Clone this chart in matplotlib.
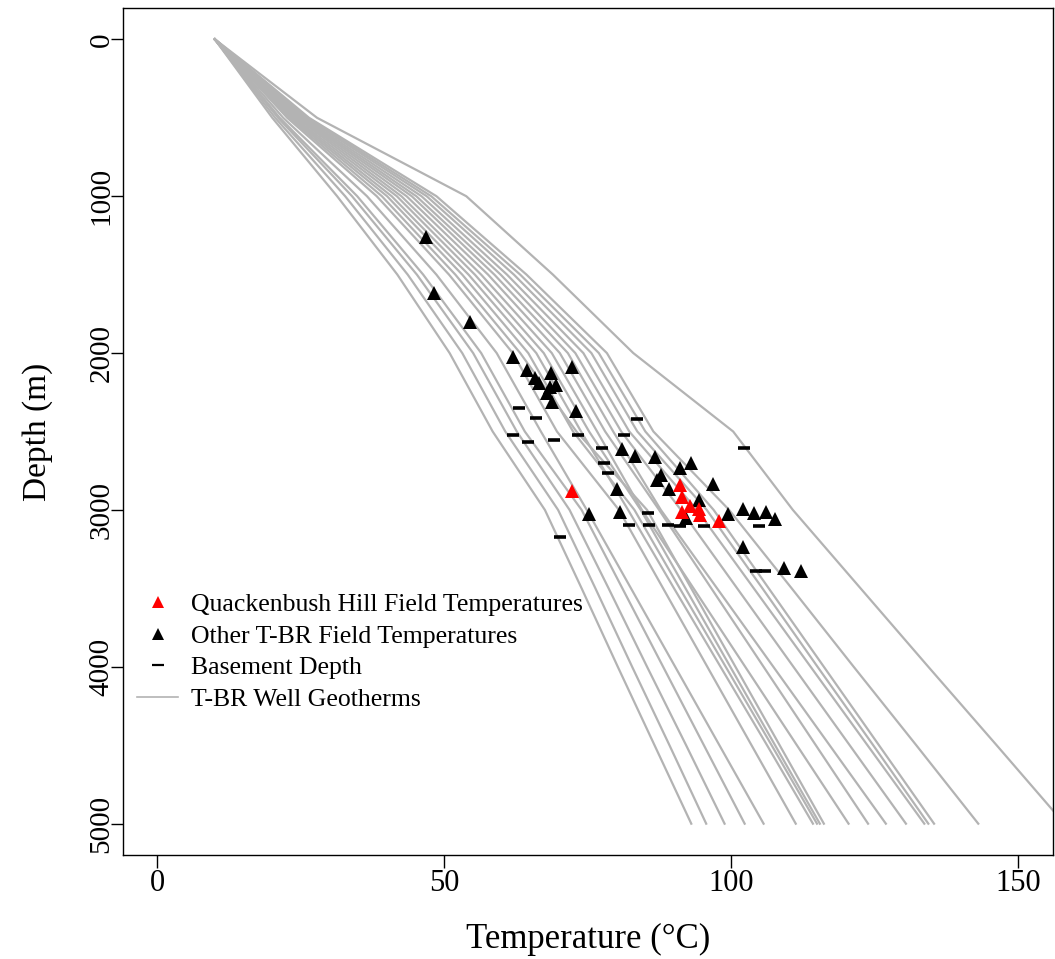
import matplotlib
matplotlib.use("Agg")
import matplotlib.pyplot as plt
from matplotlib.lines import Line2D

plt.rcParams['font.family'] = ['Liberation Serif', 'DejaVu Serif']

# Depth nodes (m) at which each geotherm temperature is read
geo_depths = [0, 500, 1000, 1500, 2000, 2500, 3000, 3500, 4000, 4500, 5000]

# Geotherm temperatures (°C) at geo_depths
geo_01 = [10, 20.0, 31.3, 41.8, 50.9, 58.4, 67.5, 73.9, 80.2, 86.6, 93.0]
geo_02 = [10, 20.5, 32.7, 43.6, 53.1, 60.6, 69.8, 76.3, 82.7, 89.2, 95.6]
geo_03 = [10, 21.0, 33.9, 45.2, 55.0, 62.6, 71.8, 78.6, 85.3, 92.1, 98.8]
geo_04 = [10, 21.3, 34.8, 46.3, 56.4, 64.0, 73.9, 81.0, 88.1, 95.2, 102.3]
geo_05 = [10, 21.9, 36.5, 48.6, 59.1, 66.8, 74.8, 82.5, 90.2, 97.9, 105.6]
geo_06 = [10, 22.6, 38.2, 50.8, 61.9, 69.6, 80.4, 88.1, 95.8, 103.5, 111.2]
geo_07 = [10, 23.5, 40.8, 54.2, 66.0, 73.8, 82.0, 90.0, 98.1, 106.2, 114.2]
geo_08 = [10, 23.2, 40.0, 53.1, 64.6, 72.4, 83.1, 91.0, 99.0, 107.0, 114.9]
geo_09 = [10, 23.8, 41.7, 55.3, 67.3, 75.2, 84.2, 92.0, 99.8, 107.6, 115.4]
geo_10 = [10, 22.9, 39.1, 51.9, 63.2, 73.0, 85.3, 93.0, 100.7, 108.4, 116.1]
geo_11 = [10, 24.2, 42.5, 56.4, 68.7, 76.6, 84.4, 93.4, 102.4, 111.4, 120.4]
geo_12 = [10, 24.5, 43.4, 57.6, 70.1, 78.0, 87.4, 96.5, 105.6, 114.7, 123.8]
geo_13 = [10, 24.8, 44.3, 58.7, 71.5, 79.4, 87.7, 97.5, 107.3, 117.1, 126.9]
geo_14 = [10, 25.1, 45.1, 59.8, 72.8, 80.8, 91.2, 101.0, 110.8, 120.6, 130.4]
geo_15 = [10, 25.4, 46.0, 60.9, 74.2, 82.2, 94.0, 103.9, 113.8, 123.7, 133.6]
geo_16 = [10, 25.8, 46.9, 62.1, 75.6, 83.6, 95.7, 105.4, 115.0, 124.7, 134.3]
geo_17 = [10, 26.1, 47.7, 63.2, 76.9, 85.0, 96.9, 106.5, 116.1, 125.7, 135.3]
geo_18 = [10, 26.4, 48.6, 64.3, 78.3, 86.4, 99.6, 110.5, 121.3, 132.2, 143.0]
geo_19 = [10, 27.8, 53.8, 68.9, 82.9, 100.3, 110.7, 122.5, 134.3, 146.2, 158.0]

geotherms = [geo_01, geo_02, geo_03, geo_04, geo_05, geo_06, geo_07, geo_08,
             geo_09, geo_10, geo_11, geo_12, geo_13, geo_14, geo_15, geo_16,
             geo_17, geo_18, geo_19]

# Quackenbush Hill field temperatures
qh_temp = [72.3, 91.1, 91.4, 92.8, 91.4, 94.3, 94.6, 97.9]
qh_depth = [2880, 2842, 2916, 2976, 3012, 2997, 3033, 3072]

# Other T-BR field temperatures
other_temp = [46.7, 48.1, 54.5, 61.9, 64.4, 65.8, 66.5, 68.5, 69.5, 68.4, 67.9,
              68.7, 72.2, 72.9, 80.9, 83.2, 86.7, 91.1, 93.0, 87.7, 87.0, 89.2,
              80.1, 75.1, 80.5, 94.3, 92.1, 96.7, 99.4, 102.0, 104.0, 106.1,
              107.6, 102.0, 109.1, 112.1]
other_depth = [1258, 1616, 1799, 2026, 2107, 2160, 2192, 2128, 2203, 2214, 2256,
               2310, 2086, 2369, 2614, 2656, 2661, 2735, 2699, 2778, 2810, 2869,
               2869, 3027, 3016, 2937, 3050, 2837, 3029, 2997, 3018, 3016,
               3057, 3236, 3370, 3389]

# Basement depths
base_temp = [63.0, 65.9, 61.9, 64.6, 69.1, 73.3, 81.2, 83.5, 77.4, 77.8, 78.5,
             102.2, 85.5, 82.2, 85.7, 88.9, 91.1, 95.3, 104.8, 70.1, 104.2, 105.9]
base_depth = [2352, 2412, 2522, 2565, 2556, 2520, 2520, 2422, 2607, 2703, 2763,
              2607, 3022, 3097, 3097, 3097, 3103, 3103, 3103, 3172, 3389, 3389]

x_ticks = [0, 50, 100, 150]
y_ticks = [0, 1000, 2000, 3000, 4000, 5000]

fig = plt.figure(figsize=(10.55, 9.59), dpi=100)
ax = fig.add_axes([0.1166, 0.1084, 0.8814, 0.8833])

grey = '#B3B3B3'
for g in geotherms:
    ax.plot(g, geo_depths, color=grey, lw=1.6, zorder=1)

ax.plot(base_temp, base_depth, linestyle='none', marker='_', color='black',
        ms=9, mew=2.6, zorder=2)
ax.plot(other_temp, other_depth, linestyle='none', marker='^', color='black',
        ms=10.5, mew=0, zorder=3)
ax.plot(qh_temp, qh_depth, linestyle='none', marker='^', color='red',
        ms=10.5, mew=0, zorder=4)

ax.set_xlim(-6, 156)
ax.set_ylim(5200, -200)
ax.set_xticks(x_ticks)
ax.set_yticks(y_ticks)
ax.set_xticklabels([str(v) for v in x_ticks], fontsize=22)
ax.set_yticklabels([str(v) for v in y_ticks], fontsize=21, rotation=90, va='center')
ax.tick_params(direction='out', length=9, width=1)
ax.tick_params(axis='x', pad=1)
ax.tick_params(axis='y', pad=-3)
for s in ax.spines.values():
    s.set_linewidth(1.0)
ax.set_xlabel('Temperature (°C)', fontsize=25, labelpad=18)
ax.set_ylabel('Depth (m)', fontsize=24, labelpad=26)

handles = [
    Line2D([], [], linestyle='none', marker='^', color='red', ms=8, mew=0),
    Line2D([], [], linestyle='none', marker='^', color='black', ms=8, mew=0),
    Line2D([], [], linestyle='none', marker='_', color='black', ms=9, mew=1.6),
    Line2D([], [], color=grey, lw=1.2),
]
labels = ['Quackenbush Hill Field Temperatures', 'Other T-BR Field Temperatures',
          'Basement Depth', 'T-BR Well Geotherms']
ax.legend(handles, labels, loc='upper left', bbox_to_anchor=(0.0, 0.326),
          frameon=False, fontsize=18.5, handlelength=1.6, handletextpad=0.5,
          labelspacing=0.34, borderaxespad=0.15)

fig.savefig('out.png', dpi=100)
